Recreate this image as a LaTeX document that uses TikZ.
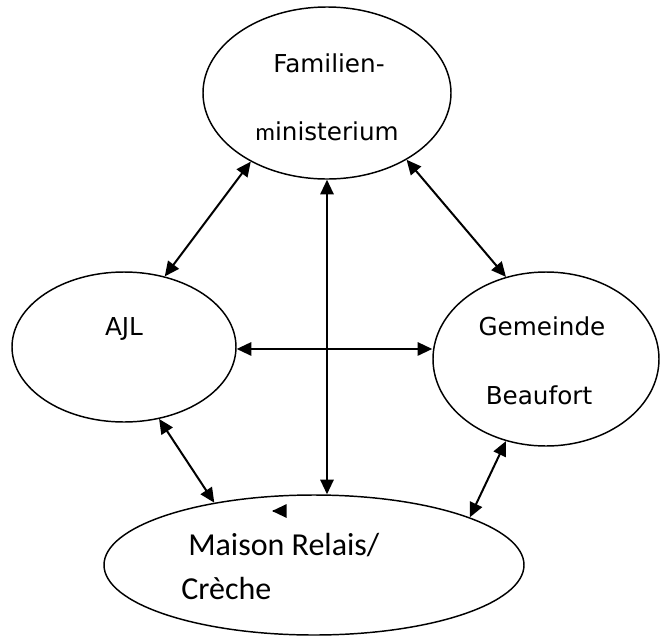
\documentclass[tikz,border=0pt]{standalone}
\usepackage{fontspec}
\usepackage{tikz}
\usetikzlibrary{arrows.meta,shapes.geometric}
\newfontfamily\comicfont{DejaVu Sans}
\newfontfamily\calibfont{Carlito}

\tikzset{
    >={Triangle[length=11pt,width=10pt]},
    party/.style={ellipse, draw, line width=1.1pt, inner sep=0pt},
    link/.style={<->, line width=1.5pt},
    lbl/.style={inner sep=0pt, anchor=base, font=\comicfont\fontsize{18.5}{22}\selectfont},
    lblc/.style={inner sep=0pt, anchor=base west, font=\calibfont\fontsize{24}{29}\selectfont}
}

\begin{document}
\begin{tikzpicture}[x=0.75pt, y=-0.75pt]
        \useasboundingbox (0,0) rectangle (661,636);
        % Draw the four parties
        \node[party, minimum width=186pt, minimum height=129pt] (fam) at (327,93) {};
        \node[party, minimum width=168pt, minimum height=112.5pt] (ajl) at (124,347) {};
        \node[party, minimum width=169.5pt, minimum height=130.5pt] (gb) at (546,359) {};
        \node[party, minimum width=315pt, minimum height=105pt] (mr) at (314,565) {};
        % Labels
        \node[lbl] (famA) at (329,72) {Familien-};
        \node[lbl] (famB) at (327,140) {{\calibfont m}inisterium};
        \node[lbl] (ajlA) at (124,335) {AJL};
        \node[lbl] (gbA) at (542,335) {Gemeinde};
        \node[lbl] (gbB) at (539,404) {Beaufort};
        \node[lblc] (mrA) at (188,555) {Maison Relais/};
        \node[lblc] (mrB) at (181,599) {Crèche};
        % Draw links
        \draw [link] (ajl.60) -- (fam.222);
        \draw [link] (fam.-40) -- (gb.116);
        \draw [link] (fam.south) -- (fam.south |- mr.north);
        \draw [link] (ajl.-1) -- (ajl.-1 -| gb.west);
        \draw [link] (ajl.-64) -- (mr.148);
        \draw [link] (gb.-116) -- (mr.17);
        % Stray tip
        \coordinate (stray) at (273,511);
        \draw [->, line width=1.5pt] (stray) -- ++(-1,0);
\end{tikzpicture}
\end{document}
